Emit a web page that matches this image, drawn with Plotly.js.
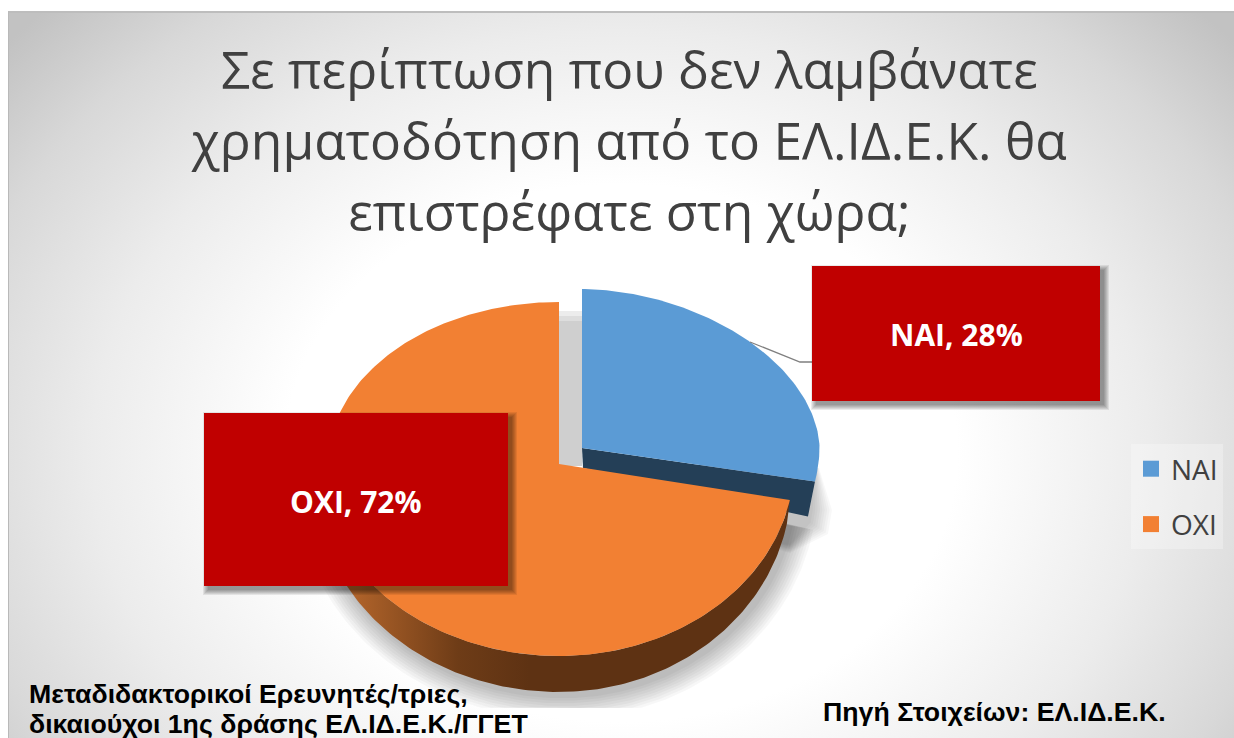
<!DOCTYPE html>
<html lang="el">
<head>
<meta charset="utf-8">
<script src="https://cdn.plot.ly/plotly-3.0.1.min.js"></script>
<style>
html,body{margin:0;padding:0;background:#fff;overflow:hidden}
#slide{position:absolute;left:8px;top:11px;width:1226px;height:727px;box-sizing:border-box;
 border-left:1px solid #b9b9b9;border-top:2px solid #bdbdbd;
 background:radial-gradient(ellipse 800px 640px at 612px 440px,#ffffff 0%,#ffffff 42%,#ececec 66%,#d8d8d8 85%,#c2c2c2 100%)}
#chart{position:absolute;left:0;top:0;width:1234px;height:738px}
</style>
</head>
<body>
<div id="slide"></div>
<div id="chart"></div>
<script>
const titleLines = ['Σε περίπτωση που δεν λαμβάνατε', 'χρηματοδότηση από το ΕΛ.ΙΔ.Ε.Κ. θα', 'επιστρέφατε στη χώρα;'];
const categories = ['NAI', 'OXI'];
const shares = [28, 72];
const topColors = ['#5b9bd5', '#f28033'];
const footLeft = ['Μεταδιδακτορικοί Ερευνητές/τριες,', 'δικαιούχοι 1ης δράσης ΕΛ.ΙΔ.Ε.Κ./ΓΓΕΤ'];
const footRight = 'Πηγή Στοιχείων: ΕΛ.ΙΔ.Ε.Κ.';

// Perspective of the tilted pie, in axis units (the axes run in slide pixels)
const blueFace = {cx:582, cy:448, rxR:237.5, rxUL:236, rxLL:236, ryU:159, ryD:205, n:1.85};
const orangeFace = {cx:559, cy:464, rxR:235, rxUL:231, rxLL:240, ryU:162, ryD:192, n:2};
const orangeBase = {cx:559, cy:485, rxR:232, rxUL:243, rxLL:243, ryU:162, ryD:207, n:2};
const shadowFloor = 708;

function pt(g, deg, grow) {
  const a = deg * Math.PI / 180, s = Math.sin(a), c = Math.cos(a), d = grow || 0;
  const rx = (s >= 0 ? g.rxR : (c >= 0 ? g.rxUL : g.rxLL)) + d, ry = (c >= 0 ? g.ryU : g.ryD) + d;
  const e = 2 / g.n;
  return [g.cx + rx * Math.sign(s) * Math.pow(Math.abs(s), e), g.cy - ry * Math.sign(c) * Math.pow(Math.abs(c), e)];
}
function arc(g, from, to, grow) {
  const out = [], n = Math.max(2, Math.ceil(Math.abs(to - from)));
  for (let i = 0; i <= n; i++) out.push(pt(g, from + (to - from) * i / n, grow));
  return out;
}
function poly(points, name, color, extra) {
  const closed = points.concat([points[0]]);
  return Object.assign({
    type:'scatter', mode:'lines', x:closed.map(p => p[0]), y:closed.map(p => p[1]),
    fill:'toself', fillcolor:color, line:{width:0, color:color}, hoverinfo:'skip',
    name:name, showlegend:false
  }, extra || {});
}

const split = 360 * shares[0] / (shares[0] + shares[1]);
const traces = [];

// soft ground shadow, clipped like the picture frame in the reference
for (let i = 0; i < 9; i++) {
  const g = Object.assign({}, orangeBase, {cx:orangeBase.cx + 4, cy:orangeBase.cy + 5});
  const pts = arc(g, 100, 270, 22 - i * 2.6).map(p => [p[0], Math.min(p[1], shadowFloor)]);
  traces.push(poly(pts.concat([[559, 470]]), 'shadow', 'rgba(0,0,0,0.032)'));
  const e = 20 - i * 2.4;
  traces.push(poly([[700, 460], [815 + e * 0.2, 468], [812 + e, 510], [810 + e * 0.9, 522 + e * 0.6], [790, 545 + e * 0.4], [700, 530]], 'shadow', 'rgba(0,0,0,0.026)'));
}

// side walls and top faces, in painting order
const bTip = pt(blueFace, split);
traces.push(poly([[blueFace.cx, blueFace.cy], [blueFace.cx + 1, blueFace.cy + 20], [bTip[0] - 7, bTip[1] + 35], bTip], 'NAI side', '#243f57'));
traces.push(poly([[blueFace.cx, blueFace.cy]].concat(arc(blueFace, 0, split)), categories[0], topColors[0]));
traces.push(poly(arc(orangeFace, split, 270).concat(arc(orangeBase, 270, split)), 'OXI side', '#5e3213', {
  fillgradient:{type:'horizontal', colorscale:[[0,'#c4722c'],[0.08,'#b0632a'],[0.3,'#6e3c17'],[0.45,'#5e3213'],[1,'#5e3213']]}
}));
traces.push(poly([[orangeFace.cx, orangeFace.cy]].concat(arc(orangeFace, split, 360)), categories[1], topColors[1]));

// leader line of the NAI label
traces.push({type:'scatter', mode:'lines', x:[750, 800, 812], y:[342, 362, 362],
  line:{color:'#7f7f7f', width:1.3}, hoverinfo:'skip', showlegend:false});

// legend entries
categories.forEach((c, i) => traces.push({
  type:'scatter', mode:'markers', x:[null], y:[null], name:c, legendgroup:c,
  marker:{symbol:'square', size:20, color:topColors[i]}, showlegend:true, hoverinfo:'skip'
}));

const boxes = [
  {x0:812, x1:1100, y0:266, y1:401},
  {x0:204, x1:508, y0:413, y1:586}
];
const shapes = [];
[[311,'#ececec'],[316,'#dddddd'],[321,'#cfcfcf']].forEach(([top, col]) => shapes.push({
  type:'rect', layer:'below', xref:'x', yref:'y', x0:559, x1:582, y0:top, y1:466, fillcolor:col, line:{width:0}
}));
boxes.forEach(b => {
  for (let i = 0; i < 6; i++) {
    const e = 5 - i;
    shapes.push({type:'rect', layer:'above', xref:'x', yref:'y',
      x0:b.x0 + 4 - e, x1:b.x1 + 4 + e, y0:b.y0 + 4 - e, y1:b.y1 + 4 + e,
      fillcolor:'rgba(0,0,0,0.08)', line:{width:0}});
  }
  shapes.push({type:'rect', layer:'above', xref:'x', yref:'y', x0:b.x0, x1:b.x1, y0:b.y0, y1:b.y1,
    fillcolor:'#c00000', line:{width:0}});
});

const labelFont = {family:'"Open Sans", sans-serif', size:30, color:'#ffffff'};
const footFont = {family:'"Liberation Sans", Arial, sans-serif', size:26.7, color:'#000000'};
const annotations = [
  {text:`<b>${categories[0]}, ${shares[0]}%</b>`, x:956, y:334, font:labelFont},
  {text:`<b>${categories[1]}, ${shares[1]}%</b>`, x:356, y:501.5, font:labelFont},
  {text:`<b>${footLeft[0]}</b>`, x:27, y:693.5, xanchor:'left', font:footFont},
  {text:`<b>${footLeft[1]}</b>`, x:27, y:723.5, xanchor:'left', font:footFont},
  {text:`<b>${footRight}</b>`, x:821, y:712, xanchor:'left', font:footFont}
].map(a => Object.assign({xref:'x', yref:'y', showarrow:false, xanchor:'center', yanchor:'middle'}, a));

const layout = {
  width:1234, height:738, margin:{l:0, r:0, t:0, b:0},
  paper_bgcolor:'rgba(0,0,0,0)', plot_bgcolor:'rgba(0,0,0,0)',
  title:{text:titleLines.join('<br>'), x:0.51, xanchor:'center', y:0.88, yanchor:'top',
    font:{family:'"Open Sans", sans-serif', size:51.5, color:'#404040'}},
  xaxis:{range:[0, 1234], visible:false, fixedrange:true},
  yaxis:{range:[738, 0], visible:false, fixedrange:true},
  shapes:shapes, annotations:annotations,
  showlegend:true,
  legend:{x:1131/1234, y:1 - 444/738, xanchor:'left', yanchor:'top', bgcolor:'rgba(255,255,255,0.28)',
    font:{family:'"Open Sans", sans-serif', size:28, color:'#404040'}, tracegroupgap:16, itemwidth:30, itemsizing:'trace',
    entrywidth:58, entrywidthmode:'pixels'}
};
Plotly.newPlot('chart', traces, layout, {displayModeBar:false, staticPlot:true}).then(gd => {
  // the slide's title has a line pitch of 71 px, wider than the library's default
  gd.querySelectorAll('.gtitle tspan.line').forEach((t, i) => {
    t.setAttribute('dy', (i * 71) + 'px');
  });
});
</script>
</body>
</html>
